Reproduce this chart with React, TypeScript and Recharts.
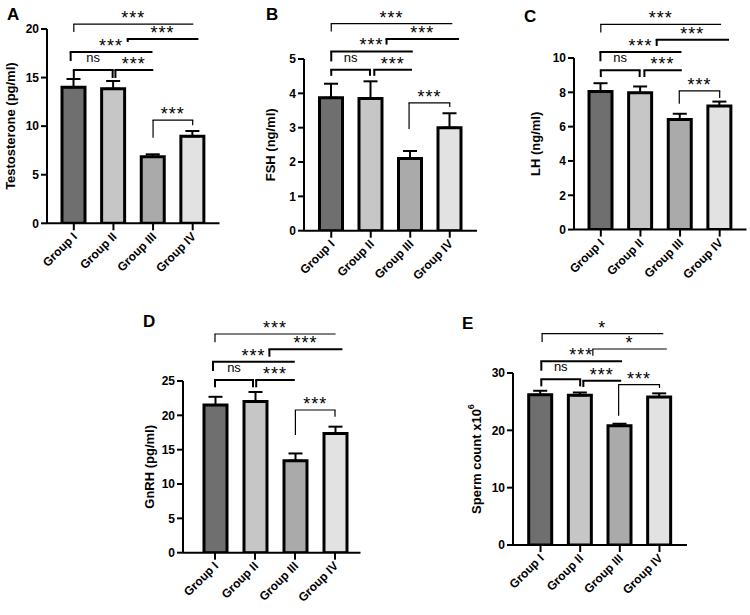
import { ComposedChart, Bar, XAxis, YAxis, ErrorBar, ReferenceLine, Cell } from "recharts";

const GROUPS = ["Group I", "Group II", "Group III", "Group IV"];
const FILLS = ["#6f6f6f", "#c6c6c6", "#aaaaaa", "#e2e2e2"];

const TESTOSTERONE = [14.0, 13.85, 6.85, 8.95];
const TESTOSTERONE_SEM = [0.85, 0.8, 0.25, 0.55];
const FSH = [3.87, 3.85, 2.1, 3.0];
const FSH_SEM = [0.41, 0.5, 0.22, 0.42];
const LH = [8.05, 7.97, 6.42, 7.2];
const LH_SEM = [0.48, 0.37, 0.33, 0.26];
const GNRH = [21.5, 22.0, 13.4, 17.35];
const GNRH_SEM = [1.2, 1.4, 1.05, 1.0];
const SPERM = [26.2, 26.1, 20.8, 25.8];
const SPERM_SEM = [0.7, 0.5, 0.35, 0.65];

// significance brackets, in data units (x = group index, y = axis value)
type Bracket = { x1: number; x2: number; y: number; l?: number; r?: number; text: string; thin?: boolean };

const A_BRACKETS: Bracket[] = [
  { x1: 0, x2: 3, y: 20.5, l: 19.7, text: "***", thin: true },
  { x1: 1.36, x2: 3.12, y: 18.97, l: 18.66, text: "***" },
  { x1: -0.08, x2: 1.96, y: 17.64, l: 16.71, text: "***" },
  { x1: 0, x2: 0.98, y: 15.78, l: 14.96, r: 14.96, text: "ns" },
  { x1: 1.05, x2: 1.98, y: 15.78, l: 14.96, text: "***" },
  { x1: 2, x2: 3, y: 10.63, l: 8.8, r: 10.1, text: "***", thin: true },
];
const B_BRACKETS: Bracket[] = [
  { x1: 0, x2: 3.05, y: 6.03, l: 5.8, text: "***", thin: true },
  { x1: 1.4, x2: 3.21, y: 5.58, l: 5.42, text: "***" },
  { x1: 0, x2: 2.04, y: 5.22, l: 4.93, text: "***" },
  { x1: 0, x2: 0.98, y: 4.69, l: 4.51, r: 4.51, text: "ns" },
  { x1: 1.09, x2: 2.02, y: 4.69, l: 4.51, text: "***" },
  { x1: 1.97, x2: 3, y: 3.72, l: 2.96, r: 3.6, text: "***", thin: true },
];
const C_BRACKETS: Bracket[] = [
  { x1: 0, x2: 3.02, y: 11.96, l: 11.48, text: "***", thin: true },
  { x1: 1.41, x2: 3.21, y: 11.07, l: 10.7, text: "***" },
  { x1: -0.01, x2: 2.01, y: 10.35, l: 9.81, text: "***" },
  { x1: 0, x2: 0.98, y: 9.28, l: 8.89, r: 8.89, text: "ns" },
  { x1: 1.1, x2: 2.02, y: 9.28, l: 8.89, text: "***" },
  { x1: 1.98, x2: 3, y: 8.08, l: 7.34, r: 7.67, text: "***", thin: true },
];
const D_BRACKETS: Bracket[] = [
  { x1: 0, x2: 3, y: 31.84, l: 30.63, text: "***", thin: true },
  { x1: 1.36, x2: 3.16, y: 29.62, l: 28.54, text: "***" },
  { x1: -0.05, x2: 1.97, y: 27.81, l: 26.46, text: "***" },
  { x1: 0, x2: 0.95, y: 25.14, l: 24.08, r: 24.08, text: "ns" },
  { x1: 1.03, x2: 1.97, y: 25.14, l: 24.08, text: "***" },
  { x1: 2.01, x2: 3, y: 20.78, l: 17.14, r: 19.8, text: "***", thin: true },
];
const E_BRACKETS: Bracket[] = [
  { x1: 0.04, x2: 3.08, y: 36.86, l: 35.41, text: "*", thin: true },
  { x1: 1.32, x2: 3.17, y: 34.19, l: 33.02, text: "*", thin: true },
  { x1: 0.02, x2: 2.03, y: 32.03, l: 30.4, text: "***" },
  { x1: 0.02, x2: 1, y: 28.89, l: 27.67, r: 27.67, text: "ns" },
  { x1: 1.08, x2: 2.01, y: 28.66, l: 27.56, text: "***" },
  { x1: 1.97, x2: 3, y: 27.96, l: 22.55, r: 27.39, text: "***", thin: true },
];

const FONT = "'Liberation Sans', Arial, sans-serif";

type Panel = {
  letter: string;
  label: string;
  sup?: string;
  values: number[];
  sem: number[];
  max: number;
  ticks: number[];
  brackets: Bracket[];
  axisX: number;
  axisEnd: number;
  yTop: number;
  yBottom: number;
  padL: number;
  padR: number;
  labelDx: number;
  letterX: number;
  letterY: number;
};

const PANELS: Panel[] = [
  {
    letter: "A", label: "Testosterone (pg/ml)", values: TESTOSTERONE, sem: TESTOSTERONE_SEM,
    max: 20, ticks: [0, 5, 10, 15, 20], brackets: A_BRACKETS,
    axisX: 47, axisEnd: 219.5, yTop: 29, yBottom: 223.3, padL: 7, padR: 7, labelDx: 36, letterX: 7, letterY: 6,
  },
  {
    letter: "B", label: "FSH (ng/ml)", values: FSH, sem: FSH_SEM,
    max: 5, ticks: [0, 1, 2, 3, 4, 5], brackets: B_BRACKETS,
    axisX: 304, axisEnd: 477, yTop: 59.3, yBottom: 231, padL: 7.5, padR: 7.5, labelDx: 33, letterX: 266, letterY: 6,
  },
  {
    letter: "C", label: "LH (ng/ml)", values: LH, sem: LH_SEM,
    max: 10, ticks: [0, 2, 4, 6, 8, 10], brackets: C_BRACKETS,
    axisX: 574, axisEnd: 746.5, yTop: 57.7, yBottom: 229.3, padL: 7, padR: 7, labelDx: 38, letterX: 524, letterY: 8,
  },
  {
    letter: "D", label: "GnRH (pg/ml)", values: GNRH, sem: GNRH_SEM,
    max: 25, ticks: [0, 5, 10, 15, 20, 25], brackets: D_BRACKETS,
    axisX: 182.5, axisEnd: 360, yTop: 381, yBottom: 552.7, padL: 12, padR: 5.5, labelDx: 33.5, letterX: 143, letterY: 313,
  },
  {
    letter: "E", label: "Sperm count x10", sup: "6", values: SPERM, sem: SPERM_SEM,
    max: 30, ticks: [0, 10, 20, 30], brackets: E_BRACKETS,
    axisX: 513.3, axisEnd: 687.3, yTop: 373.3, yBottom: 545.3, padL: 7.7, padR: 7.7, labelDx: 37, letterX: 462, letterY: 315,
  },
];

const TOP = 80;
const LEFT = 50;
const XH = 60;

function GroupTick({ x, y, payload }: any) {
  const tx = x + 4;
  const ty = y + 5;
  return (
    <text
      x={tx}
      y={ty}
      transform={`rotate(-45 ${tx} ${ty})`}
      textAnchor="end"
      fontFamily={FONT}
      fontWeight="bold"
      fontSize={12}
      fill="#000"
    >
      {GROUPS[payload.value]}
    </text>
  );
}

function PanelChart({ p }: { p: Panel }) {
  const data = p.values.map((v, i) => ({ i, v, err: [0, p.sem[i]] }));
  const plotW = p.axisEnd - p.axisX;
  const plotH = p.yBottom - p.yTop;
  const width = plotW + LEFT + 4;
  const height = plotH + TOP + XH;

  const yLabel = (props: any) => {
    const vb = props.viewBox;
    const cx = vb.x + vb.width - p.labelDx;
    const cy = vb.y + vb.height / 2;
    return (
      <text
        x={cx}
        y={cy}
        transform={`rotate(-90 ${cx} ${cy})`}
        textAnchor="middle"
        dominantBaseline="central"
        fontFamily={FONT}
        fontWeight="bold"
        fontSize={13}
        fill="#000"
      >
        {p.label}
        {p.sup ? (
          <tspan dy={-5} fontSize={9}>
            {p.sup}
          </tspan>
        ) : null}
      </text>
    );
  };

  return (
    <div style={{ position: "absolute", left: p.axisX - LEFT, top: p.yTop - TOP }}>
      <ComposedChart
        width={width}
        height={height}
        data={data}
        margin={{ top: TOP, left: LEFT - 40, right: 4, bottom: 0 }}
        style={{ overflow: "visible" }}
      >
        <XAxis
          dataKey="i"
          type="number"
          domain={[-0.5, 3.5]}
          ticks={[0, 1, 2, 3]}
          padding={{ left: p.padL, right: p.padR }}
          allowDataOverflow
          height={XH}
          tickSize={7}
          tick={<GroupTick />}
          axisLine={{ stroke: "#000", strokeWidth: 2 }}
          tickLine={{ stroke: "#000", strokeWidth: 2 }}
        />
        <YAxis
          type="number"
          domain={[0, p.max]}
          ticks={p.ticks}
          width={40}
          tickSize={6}
          allowDataOverflow
          axisLine={{ stroke: "#000", strokeWidth: 2 }}
          tickLine={{ stroke: "#000", strokeWidth: 2 }}
          tick={{ fill: "#000", fontSize: 12, fontWeight: "bold", fontFamily: FONT }}
          label={yLabel}
        />
        <Bar dataKey="v" barSize={23} stroke="#000" strokeWidth={3} isAnimationActive={false}>
          {data.map((d) => (
            <Cell key={d.i} fill={FILLS[d.i]} />
          ))}
          <ErrorBar dataKey="err" width={7} stroke="#000" strokeWidth={2} direction="y" />
        </Bar>
        {p.brackets.map((b, k) => {
          const sw = b.thin ? 1.2 : 2;
          const isNs = b.text === "ns";
          return [
            <ReferenceLine
              key={`h${k}`}
              segment={[{ x: b.x1, y: b.y }, { x: b.x2, y: b.y }]}
              stroke="#000"
              strokeWidth={sw}
              strokeLinecap="square"
              ifOverflow="visible"
              label={{
                value: b.text,
                position: "top",
                offset: isNs ? 8 : 0,
                fill: "#000",
                fontSize: isNs ? 13 : 18,
                fontFamily: FONT,
                letterSpacing: isNs ? 0 : 1,
              }}
            />,
            b.l !== undefined ? (
              <ReferenceLine
                key={`l${k}`}
                segment={[{ x: b.x1, y: b.y }, { x: b.x1, y: b.l }]}
                stroke="#000"
                strokeWidth={sw}
                ifOverflow="visible"
              />
            ) : null,
            b.r !== undefined ? (
              <ReferenceLine
                key={`r${k}`}
                segment={[{ x: b.x2, y: b.y }, { x: b.x2, y: b.r }]}
                stroke="#000"
                strokeWidth={sw}
                ifOverflow="visible"
              />
            ) : null,
          ];
        })}
      </ComposedChart>
      <div
        style={{
          position: "absolute",
          left: p.letterX - (p.axisX - LEFT),
          top: p.letterY - (p.yTop - TOP),
          fontFamily: FONT,
          fontWeight: "bold",
          fontSize: 17,
          lineHeight: "17px",
          color: "#000",
        }}
      >
        {p.letter}
      </div>
    </div>
  );
}

export default function App() {
  return (
    <div
      style={{
        position: "absolute",
        left: 0,
        top: 0,
        width: 750,
        height: 615,
        overflow: "hidden",
        background: "#fff",
      }}
    >
      {PANELS.map((p) => (
        <PanelChart key={p.letter} p={p} />
      ))}
    </div>
  );
}
